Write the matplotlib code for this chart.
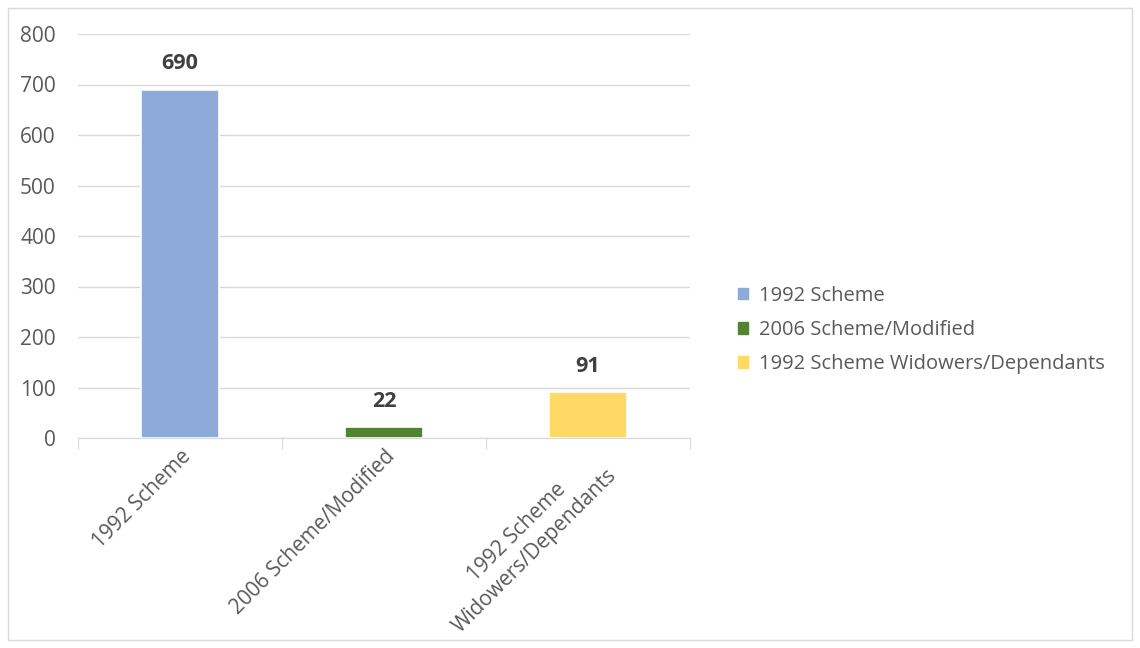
import matplotlib.pyplot as plt
from matplotlib.patches import Rectangle

categories = ["1992 Scheme", "2006 Scheme/Modified", "1992 Scheme\nWidowers/Dependants"]
legend_names = ["1992 Scheme", "2006 Scheme/Modified", "1992 Scheme Widowers/Dependants"]
values = [690, 22, 91]
colors = ["#8eaadb", "#538135", "#ffd966"]

plt.rcParams['font.family'] = ['Open Sans', 'DejaVu Sans']
txt = "#595959"

fig = plt.figure(figsize=(11.4, 6.48), dpi=100)
fig.patches.append(Rectangle((8/1140, 8/648), 1124/1140, 632/648, transform=fig.transFigure,
                             fill=False, edgecolor="#d9d9d9", lw=1))
ax = fig.add_axes([78/1140, 1-438/648, 612/1140, 404/648])

x = range(len(values))
bars = ax.bar(x, values, width=0.38, color=colors, edgecolor="white", linewidth=1.2, zorder=3)
for xi, v in zip(x, values):
    ax.annotate(str(v), (xi, v), xytext=(0, 11), textcoords="offset points",
                ha="center", va="bottom", fontsize=15.5, fontweight="bold", color="#404040")

ax.set_xlim(-0.5, 2.5)
ax.set_ylim(0, 800)
ax.set_yticks(range(0, 801, 100))
ax.grid(axis="y", color="#d9d9d9", lw=1, zorder=0)
for s in ["top", "right", "left"]:
    ax.spines[s].set_visible(False)
ax.spines["bottom"].set_color("#d9d9d9")
ax.tick_params(axis="y", length=0, labelsize=15, labelcolor=txt, pad=16)

ax.set_xticks([-0.5, 0.5, 1.5, 2.5], minor=False)
ax.set_xticklabels([])
ax.tick_params(axis="x", which="major", length=8, color="#d9d9d9")
ax.set_xticks(list(x), minor=True)
ax.set_xticklabels(categories, minor=True, rotation=45, ha="right", va="top",
                   rotation_mode="anchor", fontsize=15, color=txt, multialignment="center",
                   linespacing=1.3)
ax.tick_params(axis="x", which="minor", length=0, pad=6)

handles = [Rectangle((0, 0), 1, 1, color=c) for c in colors]
fig.legend(handles, legend_names, loc="center left", bbox_to_anchor=(720/1140, 1-330/648),
           frameon=False, fontsize=14.5, labelcolor=txt, handlelength=0.5, handleheight=0.5,
           handletextpad=0.55, labelspacing=0.7)

fig.savefig("out.png", dpi=100)
